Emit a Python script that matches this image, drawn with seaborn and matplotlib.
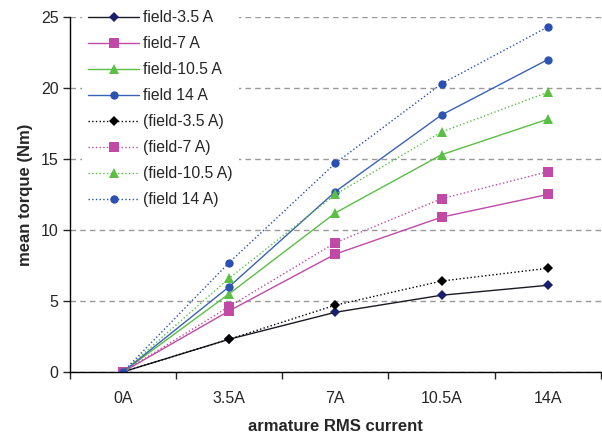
import matplotlib
matplotlib.use("Agg")
import matplotlib.pyplot as plt
import seaborn as sns
import pandas as pd
import numpy as np

categories = ["0A", "3.5A", "7A", "10.5A", "14A"]
labels = ["field-3.5 A", "field-7 A", "field-10.5 A", "field 14 A",
          "(field-3.5 A)", "(field-7 A)", "(field-10.5 A)", "(field 14 A)"]
s_35 = [0, 2.3, 4.2, 5.4, 6.1]
s_7 = [0, 4.3, 8.3, 10.9, 12.5]
s_105 = [0, 5.5, 11.2, 15.3, 17.8]
s_14 = [0, 6.0, 12.7, 18.1, 22.0]
d_35 = [0, 2.3, 4.7, 6.4, 7.3]
d_7 = [0, 4.6, 9.1, 12.2, 14.1]
d_105 = [0, 6.6, 12.5, 16.9, 19.7]
d_14 = [0, 7.7, 14.7, 20.3, 24.3]
yticks = [0, 5, 10, 15, 20, 25]

series = [s_35, s_7, s_105, s_14, d_35, d_7, d_105, d_14]
line_colors = ["#1a1a22", "#c04aa6", "#5bbf45", "#3a62b5",
               "#000000", "#c04aa6", "#5bbf45", "#2a50b3"]
marker_colors = ["#1b1f6b", "#c04aa6", "#5bbf45", "#2d55b0",
                 "#000000", "#c04aa6", "#5bbf45", "#2a50b3"]
markers = ["D", "s", "^", "o", "D", "s", "^", "o"]
msizes = [5.5, 6.5, 7.5, 6, 5.5, 6.5, 7.5, 6]
styles = ["-", "-", "-", "-", ":", ":", ":", ":"]

sns.set_style("white")
plt.rcParams["font.family"] = ["Liberation Sans", "DejaVu Sans"]

fig = plt.figure(figsize=(6.02, 4.37), dpi=100)
ax = fig.add_axes([0.116, 0.149, 0.882, 0.812])

for vals, lab, lc, mc, m, ms, ls in zip(series, labels, line_colors, marker_colors,
                                        markers, msizes, styles):
    df = pd.DataFrame({"x": np.arange(len(categories)), "y": vals})
    sns.lineplot(data=df, x="x", y="y", ax=ax, color=lc, marker=m, markersize=ms,
                 markerfacecolor=mc, markeredgecolor=mc,
                 linestyle=ls, linewidth=1.0, markeredgewidth=0, label=lab)

ax.set_xlim(-0.5, len(categories) - 0.5)
ax.set_ylim(0, 25)
ax.set_yticks(yticks)
ax.set_yticklabels([str(v) for v in yticks], fontsize=11.5)
ax.set_xticks(np.arange(-0.5, len(categories), 1.0))
ax.set_xticklabels([])
ax.set_xticks(np.arange(len(categories)), minor=True)
ax.set_xticklabels(categories, minor=True, fontsize=11.5)
ax.tick_params(axis="x", which="minor", length=0, pad=14)
ax.tick_params(axis="x", which="major", length=5, width=1, direction="out", bottom=True)
ax.tick_params(axis="y", length=5, width=1, direction="out", left=True, pad=3)
ax.yaxis.grid(True, linestyle=(0, (4, 3)), color="#999999", linewidth=1.0)
ax.xaxis.grid(False)
ax.set_axisbelow(True)
for s in ["top", "right"]:
    ax.spines[s].set_visible(False)
for s in ["left", "bottom"]:
    ax.spines[s].set_color("black")
    ax.spines[s].set_linewidth(1.0)

ax.set_xlabel("armature RMS current", fontsize=12, fontweight="bold", labelpad=9)
ax.set_ylabel("mean torque (Nm)", fontsize=12, fontweight="bold", labelpad=6)

leg = ax.legend(loc="upper left", bbox_to_anchor=(0.017, 1.045), frameon=True,
                fontsize=11.3, labelspacing=0.70, handlelength=3.25, handletextpad=0.26,
                borderaxespad=0.2)
leg.get_frame().set_edgecolor("none")
leg.get_frame().set_facecolor("white")
leg.get_frame().set_alpha(1.0)

fig.savefig("out.png", dpi=100)
